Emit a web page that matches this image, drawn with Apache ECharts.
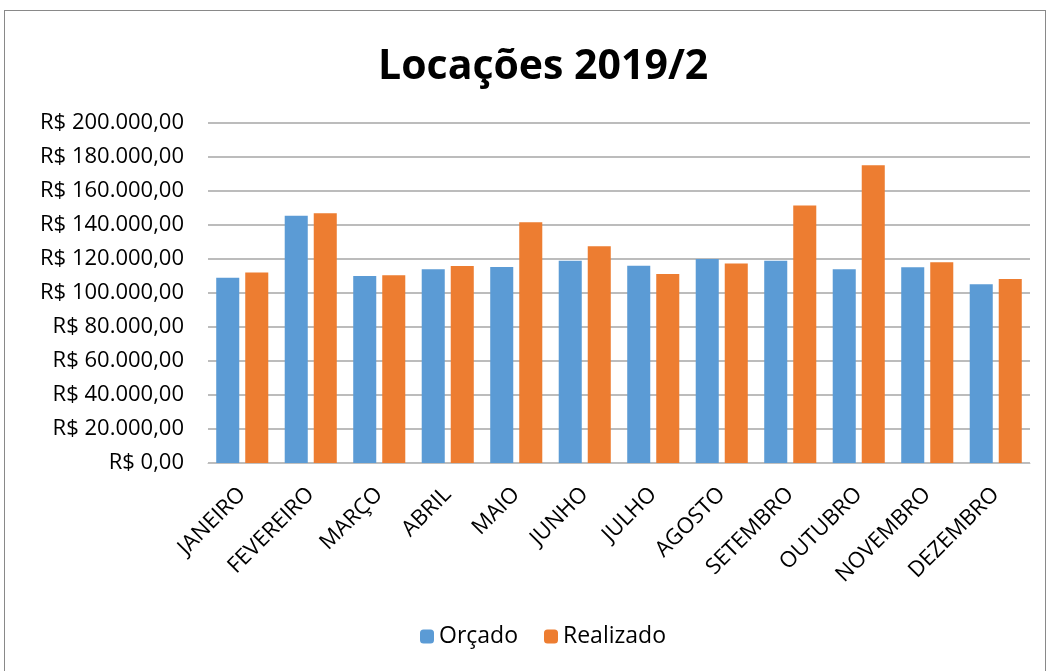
<!DOCTYPE html>
<html>
<head>
<meta charset="utf-8">
<script src="https://cdn.jsdelivr.net/npm/echarts@6/dist/echarts.min.js"></script>
<style>
  html, body { margin: 0; padding: 0; background: #fff; }
  #frame { position: absolute; left: 4px; top: 10px; width: 1042px; height: 670px; border: 1px solid #898989; box-sizing: border-box; border-bottom: none; }
  #chart { position: absolute; left: 0; top: 0; width: 1051px; height: 671px; }
</style>
</head>
<body>
<div id="frame"></div>
<div id="chart"></div>
<script>
// meses
const months = ['JANEIRO', 'FEVEREIRO', 'MARÇO', 'ABRIL', 'MAIO', 'JUNHO',
  'JULHO', 'AGOSTO', 'SETEMBRO', 'OUTUBRO', 'NOVEMBRO', 'DEZEMBRO'];
// valores orçados
const orcado = [109000, 145500, 110000, 114000, 115300, 119000,
  116100, 120000, 119000, 114000, 115100, 105100];
// valores realizados
const realizado = [112000, 146900, 110400, 115900, 141600, 127500,
  111200, 117300, 151400, 175100, 118100, 108200];

const fmt = v => 'R$ ' + v.toLocaleString('pt-BR', { minimumFractionDigits: 2, maximumFractionDigits: 2 });

const chart = echarts.init(document.getElementById('chart'));
chart.setOption({
  animation: false,
  textStyle: { fontFamily: 'Open Sans' },
  title: {
    text: 'Locações 2019/2',
    left: 373,
    top: 42,
    textStyle: { fontSize: 41, fontWeight: 'bold', color: '#000', fontFamily: 'Open Sans' }
  },
  legend: {
    bottom: 18,
    left: 415,
    itemWidth: 14,
    itemHeight: 14,
    itemGap: 26,
    textStyle: { fontSize: 23, color: '#000' },
    data: ['Orçado', 'Realizado']
  },
  grid: { left: 208, right: 21, top: 123, bottom: 208, containLabel: false },
  xAxis: {
    type: 'category',
    data: months,
    axisLine: { lineStyle: { color: '#bfbfbf' } },
    axisTick: { show: false },
    axisLabel: { rotate: 45, fontSize: 22, color: '#000', interval: 0, margin: 28 }
  },
  yAxis: {
    type: 'value',
    min: 0,
    max: 200000,
    interval: 20000,
    axisLine: { show: false },
    axisTick: { show: false },
    splitLine: { lineStyle: { color: '#a6a6a6', width: 1.5 } },
    axisLabel: { fontSize: 22, color: '#000', margin: 24, formatter: fmt }
  },
  series: [
    {
      name: 'Orçado',
      type: 'bar',
      data: orcado,
      barGap: '26%',
      barCategoryGap: '24%',
      itemStyle: { color: '#5b9bd5' }
    },
    {
      name: 'Realizado',
      type: 'bar',
      data: realizado,
      itemStyle: { color: '#ed7d31' }
    }
  ]
});
</script>
</body>
</html>
